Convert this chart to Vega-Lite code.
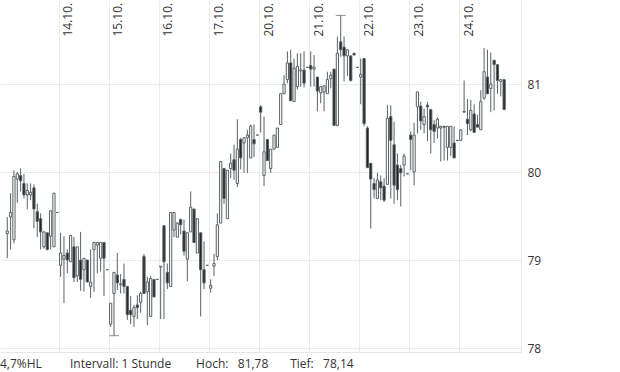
{
  "$schema": "https://vega.github.io/schema/vega-lite/v6.json",
  "width": 521,
  "height": 352,
  "padding": 0,
  "background": "white",
  "config": {
    "view": {"stroke": null},
    "font": "Open Sans",
    "axis": {"labelFont": "Open Sans", "labelFontSize": 12, "labelColor": "#333333", "gridColor": "#ebebeb", "gridWidth": 1}
  },
  "title": {
    "text": "4,7%HL\u00a0\u00a0\u00a0\u00a0\u00a0\u00a0\u00a0\u00a0\u00a0Intervall: 1 Stunde\u00a0\u00a0\u00a0\u00a0\u00a0\u00a0\u00a0\u00a0Hoch:\u00a0\u00a0\u00a081,78\u00a0\u00a0\u00a0\u00a0\u00a0\u00a0\u00a0Tief:\u00a0\u00a0\u00a078,14",
    "orient": "bottom",
    "anchor": "start",
    "frame": "group",
    "fontSize": 12,
    "fontWeight": "normal",
    "font": "Open Sans",
    "color": "#333333",
    "offset": 5
  },
  "data": {
    "values": [
      {"i":0,"o":79.30,"h":79.49,"l":79.02,"c":79.33},
      {"i":1,"o":79.49,"h":79.76,"l":79.12,"c":79.54},
      {"i":2,"o":79.23,"h":80.02,"l":79.19,"c":79.95},
      {"i":3,"o":79.92,"h":80.00,"l":79.65,"c":79.98},
      {"i":4,"o":79.96,"h":80.04,"l":79.78,"c":79.90},
      {"i":5,"o":79.87,"h":79.98,"l":79.70,"c":79.74},
      {"i":6,"o":79.74,"h":79.87,"l":79.58,"c":79.79},
      {"i":7,"o":79.74,"h":79.87,"l":79.68,"c":79.77},
      {"i":8,"o":79.82,"h":79.86,"l":79.36,"c":79.58},
      {"i":9,"o":79.55,"h":79.64,"l":79.26,"c":79.44},
      {"i":10,"o":79.47,"h":79.53,"l":79.12,"c":79.32},
      {"i":11,"o":79.15,"h":79.32,"l":79.13,"c":79.32},
      {"i":12,"o":79.31,"h":79.31,"l":79.11,"c":79.12},
      {"i":13,"o":79.27,"h":79.56,"l":79.12,"c":79.56},
      {"i":14,"o":79.15,"h":79.76,"l":79.15,"c":79.76},
      {"i":15,"o":79.54,"h":79.54,"l":79.54,"c":79.54},
      {"i":16,"o":78.94,"h":79.31,"l":78.81,"c":79.08},
      {"i":17,"o":79.01,"h":79.27,"l":78.51,"c":79.05},
      {"i":18,"o":79.08,"h":79.12,"l":78.85,"c":79.00},
      {"i":19,"o":78.98,"h":79.28,"l":78.98,"c":79.28},
      {"i":20,"o":79.15,"h":79.26,"l":78.75,"c":78.80},
      {"i":21,"o":78.82,"h":79.15,"l":78.75,"c":79.15},
      {"i":22,"o":79.00,"h":79.32,"l":78.65,"c":78.78},
      {"i":23,"o":78.89,"h":79.02,"l":78.64,"c":79.02},
      {"i":24,"o":79.00,"h":79.00,"l":78.75,"c":78.75},
      {"i":25,"o":78.70,"h":79.12,"l":78.57,"c":78.75},
      {"i":26,"o":79.12,"h":79.20,"l":78.64,"c":79.20},
      {"i":27,"o":79.17,"h":79.20,"l":78.85,"c":79.20},
      {"i":28,"o":79.02,"h":79.20,"l":78.87,"c":79.20},
      {"i":29,"o":79.20,"h":79.20,"l":78.59,"c":79.02},
      {"i":30,"o":78.89,"h":78.89,"l":78.89,"c":78.89},
      {"i":31,"o":78.27,"h":78.51,"l":78.24,"c":78.51},
      {"i":32,"o":78.62,"h":78.86,"l":78.14,"c":78.86},
      {"i":33,"o":78.83,"h":79.08,"l":78.66,"c":78.74},
      {"i":34,"o":78.72,"h":78.84,"l":78.62,"c":78.73},
      {"i":35,"o":78.78,"h":78.96,"l":78.62,"c":78.70},
      {"i":36,"o":78.70,"h":78.70,"l":78.32,"c":78.38},
      {"i":37,"o":78.43,"h":78.59,"l":78.27,"c":78.38},
      {"i":38,"o":78.36,"h":78.49,"l":78.24,"c":78.46},
      {"i":39,"o":78.49,"h":78.60,"l":78.33,"c":78.46},
      {"i":40,"o":78.52,"h":78.64,"l":78.40,"c":78.62},
      {"i":41,"o":79.04,"h":79.07,"l":78.62,"c":78.62},
      {"i":42,"o":78.64,"h":78.81,"l":78.26,"c":78.75},
      {"i":43,"o":78.36,"h":78.82,"l":78.36,"c":78.79},
      {"i":44,"o":78.78,"h":78.78,"l":78.58,"c":78.58},
      {"i":45,"o":78.78,"h":78.78,"l":78.78,"c":78.78},
      {"i":46,"o":78.92,"h":78.93,"l":78.33,"c":78.93},
      {"i":47,"o":79.39,"h":79.39,"l":78.33,"c":78.98},
      {"i":48,"o":78.86,"h":78.96,"l":78.67,"c":78.74},
      {"i":49,"o":78.70,"h":79.54,"l":78.70,"c":79.54},
      {"i":50,"o":79.34,"h":79.54,"l":79.26,"c":79.54},
      {"i":51,"o":79.26,"h":79.43,"l":79.26,"c":79.42},
      {"i":52,"o":79.46,"h":79.47,"l":79.29,"c":79.40},
      {"i":53,"o":79.33,"h":79.46,"l":79.05,"c":79.10},
      {"i":54,"o":79.01,"h":79.31,"l":78.76,"c":79.31},
      {"i":55,"o":79.32,"h":79.78,"l":79.32,"c":79.60},
      {"i":56,"o":79.58,"h":79.58,"l":79.20,"c":79.20},
      {"i":57,"o":79.08,"h":79.47,"l":79.08,"c":79.47},
      {"i":58,"o":79.31,"h":79.31,"l":78.36,"c":78.89},
      {"i":59,"o":78.89,"h":79.21,"l":78.67,"c":78.74},
      {"i":60,"o":78.94,"h":78.94,"l":78.94,"c":78.94},
      {"i":61,"o":78.68,"h":78.78,"l":78.63,"c":78.71},
      {"i":62,"o":78.93,"h":79.07,"l":78.82,"c":78.96},
      {"i":63,"o":79.04,"h":79.53,"l":79.00,"c":79.40},
      {"i":64,"o":79.42,"h":80.12,"l":79.42,"c":80.12},
      {"i":65,"o":80.04,"h":80.04,"l":79.64,"c":79.70},
      {"i":66,"o":79.47,"h":80.02,"l":79.47,"c":80.02},
      {"i":67,"o":80.04,"h":80.21,"l":79.93,"c":80.10},
      {"i":68,"o":80.14,"h":80.31,"l":79.91,"c":80.02},
      {"i":69,"o":79.87,"h":80.60,"l":79.83,"c":80.26},
      {"i":70,"o":80.37,"h":80.39,"l":80.03,"c":80.16},
      {"i":71,"o":80.33,"h":80.39,"l":79.99,"c":80.39},
      {"i":72,"o":80.39,"h":80.48,"l":79.99,"c":80.42},
      {"i":73,"o":80.16,"h":80.54,"l":80.16,"c":80.52},
      {"i":74,"o":80.37,"h":80.54,"l":80.17,"c":80.32},
      {"i":75,"o":80.42,"h":80.42,"l":80.42,"c":80.42},
      {"i":76,"o":80.74,"h":80.76,"l":80.45,"c":80.68},
      {"i":77,"o":79.96,"h":80.63,"l":79.84,"c":80.23},
      {"i":78,"o":80.37,"h":80.37,"l":80.13,"c":80.13},
      {"i":79,"o":80.04,"h":80.26,"l":79.99,"c":80.26},
      {"i":80,"o":80.26,"h":80.42,"l":80.26,"c":80.42},
      {"i":81,"o":80.28,"h":80.50,"l":80.28,"c":80.50},
      {"i":82,"o":80.54,"h":80.89,"l":80.54,"c":80.89},
      {"i":83,"o":80.89,"h":81.10,"l":80.89,"c":81.00},
      {"i":84,"o":81.05,"h":81.37,"l":81.01,"c":81.24},
      {"i":85,"o":81.24,"h":81.39,"l":80.81,"c":80.81},
      {"i":86,"o":80.80,"h":81.29,"l":80.80,"c":81.18},
      {"i":87,"o":80.97,"h":81.35,"l":80.94,"c":81.20},
      {"i":88,"o":81.15,"h":81.35,"l":80.97,"c":81.16},
      {"i":89,"o":81.16,"h":81.37,"l":80.96,"c":81.01},
      {"i":90,"o":81.19,"h":81.19,"l":81.19,"c":81.19},
      {"i":91,"o":81.21,"h":81.37,"l":80.97,"c":81.17},
      {"i":92,"o":81.17,"h":81.33,"l":80.97,"c":81.19},
      {"i":93,"o":81.08,"h":81.08,"l":80.69,"c":80.92},
      {"i":94,"o":80.90,"h":80.97,"l":80.78,"c":80.97},
      {"i":95,"o":80.91,"h":80.98,"l":80.69,"c":80.98},
      {"i":96,"o":80.89,"h":81.14,"l":80.89,"c":81.05},
      {"i":97,"o":81.06,"h":81.14,"l":80.95,"c":81.10},
      {"i":98,"o":81.17,"h":81.17,"l":80.53,"c":80.53},
      {"i":99,"o":80.53,"h":81.54,"l":80.52,"c":81.35},
      {"i":100,"o":81.48,"h":81.78,"l":81.31,"c":81.39},
      {"i":101,"o":81.42,"h":81.54,"l":81.03,"c":81.32},
      {"i":102,"o":81.32,"h":81.39,"l":81.09,"c":81.39},
      {"i":103,"o":81.32,"h":81.32,"l":81.03,"c":81.04},
      {"i":104,"o":81.35,"h":81.35,"l":81.33,"c":81.33},
      {"i":105,"o":81.19,"h":81.19,"l":81.19,"c":81.19},
      {"i":106,"o":81.08,"h":81.29,"l":80.77,"c":81.11},
      {"i":107,"o":81.29,"h":81.29,"l":80.52,"c":80.55},
      {"i":108,"o":80.50,"h":80.52,"l":80.05,"c":80.05},
      {"i":109,"o":80.10,"h":80.10,"l":79.36,"c":79.92},
      {"i":110,"o":79.87,"h":79.93,"l":79.70,"c":79.80},
      {"i":111,"o":79.70,"h":79.99,"l":79.70,"c":79.91},
      {"i":112,"o":79.89,"h":79.96,"l":79.68,"c":79.82},
      {"i":113,"o":79.84,"h":79.93,"l":79.66,"c":79.68},
      {"i":114,"o":79.86,"h":80.76,"l":79.86,"c":80.61},
      {"i":115,"o":80.63,"h":80.76,"l":79.70,"c":80.36},
      {"i":116,"o":80.31,"h":80.57,"l":79.64,"c":79.85},
      {"i":117,"o":80.08,"h":80.21,"l":79.68,"c":79.80},
      {"i":118,"o":80.04,"h":80.08,"l":79.61,"c":79.99},
      {"i":119,"o":80.08,"h":80.21,"l":79.95,"c":80.18},
      {"i":120,"o":79.98,"h":79.98,"l":79.98,"c":79.98},
      {"i":121,"o":80.42,"h":80.46,"l":80.02,"c":80.37},
      {"i":122,"o":80.00,"h":80.56,"l":79.85,"c":80.42},
      {"i":123,"o":80.74,"h":80.91,"l":80.44,"c":80.91},
      {"i":124,"o":80.75,"h":80.80,"l":80.48,"c":80.58},
      {"i":125,"o":80.54,"h":80.72,"l":80.44,"c":80.63},
      {"i":126,"o":80.76,"h":80.80,"l":80.35,"c":80.74},
      {"i":127,"o":80.71,"h":80.71,"l":80.21,"c":80.48},
      {"i":128,"o":80.54,"h":80.59,"l":80.33,"c":80.46},
      {"i":129,"o":80.50,"h":80.62,"l":80.38,"c":80.60},
      {"i":130,"o":80.50,"h":80.52,"l":80.12,"c":80.52},
      {"i":131,"o":80.52,"h":80.52,"l":80.13,"c":80.51},
      {"i":132,"o":80.28,"h":80.52,"l":80.13,"c":80.52},
      {"i":133,"o":80.28,"h":80.52,"l":80.18,"c":80.52},
      {"i":134,"o":80.33,"h":80.52,"l":80.16,"c":80.16},
      {"i":135,"o":80.36,"h":80.36,"l":80.36,"c":80.36},
      {"i":136,"o":80.36,"h":80.48,"l":80.36,"c":80.48},
      {"i":137,"o":80.68,"h":81.04,"l":80.68,"c":80.69},
      {"i":138,"o":80.60,"h":80.83,"l":80.42,"c":80.55},
      {"i":139,"o":80.48,"h":80.82,"l":80.46,"c":80.70},
      {"i":140,"o":80.66,"h":80.77,"l":80.45,"c":80.45},
      {"i":141,"o":80.54,"h":80.65,"l":80.51,"c":80.51},
      {"i":142,"o":80.48,"h":80.93,"l":80.48,"c":80.80},
      {"i":143,"o":80.84,"h":81.41,"l":80.82,"c":81.14},
      {"i":144,"o":81.08,"h":81.39,"l":80.89,"c":80.89},
      {"i":145,"o":80.95,"h":81.36,"l":80.68,"c":81.00},
      {"i":146,"o":81.27,"h":81.27,"l":80.70,"c":81.22},
      {"i":147,"o":81.22,"h":81.22,"l":80.89,"c":81.04},
      {"i":148,"o":81.03,"h":81.05,"l":80.86,"c":81.05},
      {"i":149,"o":81.05,"h":81.05,"l":80.71,"c":80.71}
    ]
  },
  "layer": [
    {
      "mark": {"type": "rule", "color": "#5a6164", "strokeWidth": 1},
      "encoding": {
        "x": {
          "field": "i", "type": "quantitative",
          "scale": {"domain": [-0.68, 152.56], "nice": false, "zero": false},
          "axis": {
            "orient": "top",
            "values": [15.5, 30.5, 45.5, 60.5, 75.5, 90.5, 105.5, 120.5, 135.5],
            "labelExpr": "['14.10.','15.10.','16.10.','17.10.','20.10.','21.10.','22.10.','23.10.','24.10.'][round((datum.value - 15.5) / 15)]",
            "labelAngle": -90,
            "labelAlign": "left",
            "labelBaseline": "middle",
            "grid": true,
            "domain": false,
            "ticks": false,
            "offset": -38,
            "labelPadding": 2,
            "labelOffset": 9,
            "title": null
          }
        },
        "y": {
          "field": "l", "type": "quantitative",
          "scale": {"domain": [77.955, 81.955], "nice": false, "zero": false},
          "axis": {
            "orient": "right",
            "values": [78, 79, 80, 81],
            "format": "d",
            "grid": true,
            "domain": true,
            "domainColor": "#e6e6e6",
            "ticks": false,
            "labelPadding": 6,
            "title": null
          }
        },
        "y2": {"field": "h"}
      }
    },
    {
      "mark": {"type": "bar", "size": 2.2, "stroke": "#5a6164", "strokeWidth": 1},
      "encoding": {
        "x": {
          "field": "i", "type": "quantitative",
          "axis": {"orient": "bottom", "labels": false, "ticks": false, "grid": false, "domain": true, "domainColor": "#e6e6e6", "title": null}
        },
        "y": {
          "field": "o", "type": "quantitative",
          "axis": {
            "orient": "right",
            "values": [78, 79, 80, 81],
            "format": "d",
            "grid": true,
            "domain": true,
            "domainColor": "#e6e6e6",
            "ticks": false,
            "labelPadding": 6,
            "title": null
          }
        },
        "y2": {"field": "c"},
        "fill": {"condition": {"test": "datum.c < datum.o", "value": "#222222"}, "value": "#ffffff"}
      }
    },
    {
      "data": {"values": [{"i": 32, "v": 78.14}, {"i": 100, "v": 81.78}]},
      "mark": {"type": "tick", "orient": "horizontal", "size": 10, "thickness": 1, "color": "#5a6164"},
      "encoding": {
        "x": {"field": "i", "type": "quantitative", "axis": null},
        "y": {
          "field": "v", "type": "quantitative",
          "axis": {
            "orient": "right",
            "values": [78, 79, 80, 81],
            "format": "d",
            "grid": true,
            "domain": true,
            "domainColor": "#e6e6e6",
            "ticks": false,
            "labelPadding": 6,
            "title": null
          }
        }
      }
    }
  ],
  "resolve": {"axis": {"x": "independent"}}
}
